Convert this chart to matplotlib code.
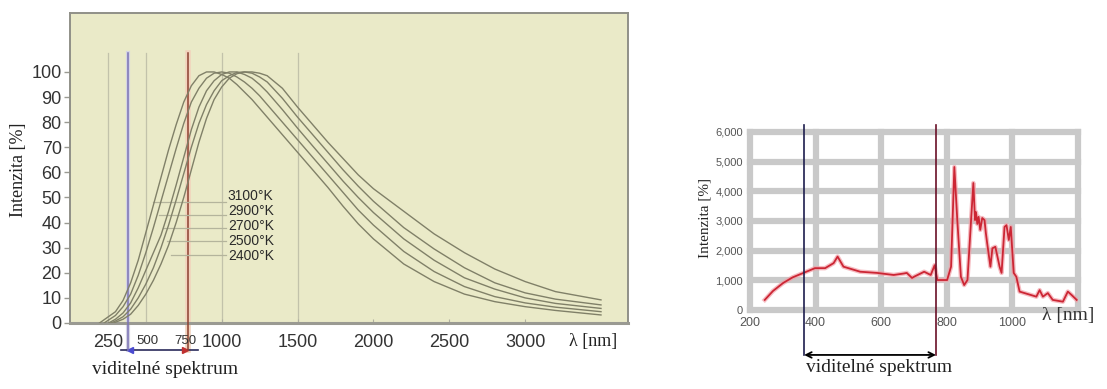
import matplotlib.pyplot as plt

plt.rcParams['font.family'] = ['Liberation Sans', 'DejaVu Sans']

# left chart: relative intensity of a filament at several temperatures
wl_grid = [300, 350, 400, 450, 500, 550, 600, 650, 700, 750, 800, 850, 900, 950,
           1000, 1050, 1100, 1150, 1200, 1250, 1300, 1400, 1500, 1600, 1700, 1800,
           1900, 2000, 2200, 2400, 2600, 2800, 3000, 3200, 3500]
temps = ["3100°K", "2900°K", "2700°K", "2500°K", "2400°K"]
start_wl = [195, 225, 255, 270, 290]

int_3100 = [4.5, 9, 16, 25, 36, 47, 58, 69, 79, 88, 94.5, 98.5, 100, 100,
            99, 97.5, 95, 92, 89, 85.5, 82, 75, 68, 61, 54, 46.5,
            39.5, 33.5, 23.5, 16.5, 11.5, 8.5, 6.5, 5, 3.2]
int_2900 = [3, 6.5, 11.5, 19, 28, 38, 48.5, 59, 69.5, 79.5, 88, 93.5, 97.5, 99.5,
            100, 99.5, 98, 96, 93.5, 90.5, 87, 80, 73, 66, 59, 52,
            45, 39, 28.5, 20.5, 14.5, 10.5, 8, 6.3, 4.5]
int_2700 = [1.5, 4, 8, 14, 21, 28, 35, 44.5, 55, 66, 77, 86, 92.5, 96.5,
            99, 100, 100, 99, 97.5, 95, 92, 85, 77.6, 70.5, 63.5, 56.5,
            50, 44, 33.5, 25, 18, 13.5, 10, 7.8, 5.8]
int_2500 = [0.8, 2.5, 5.5, 10, 15.5, 22, 30, 39, 49, 59.5, 70, 79.5, 87, 92.5,
            96.5, 98.5, 99.8, 100, 99.5, 98, 96, 89.5, 82, 75, 68, 61,
            54.5, 48.5, 38, 29.5, 22, 16, 12, 9.5, 7.2]
int_2400 = [0.3, 1.5, 3.5, 7, 11.5, 17, 23.5, 31, 40, 50, 61, 72, 81.5, 89,
            94, 97.5, 99.3, 100, 100, 99.5, 98.5, 93.5, 86, 79, 72, 65.5,
            59, 53.5, 44.5, 35.5, 28, 21.5, 16.5, 12.5, 9.2]
curves = [int_3100, int_2900, int_2700, int_2500, int_2400]

leader_start = [550, 585, 615, 640, 665]
leader_level = [48, 43, 38, 32.5, 27]
label_level = [50.5, 44.5, 38.5, 32.5, 26.5]

grid_left = [250, 500, 1000, 1500]
vis_left = [380, 776]
xticks_big = [250, 1000, 1500, 2000, 2500, 3000]
xticks_small = [500, 750]

# right chart: measured lamp spectrum
spec_wl = [245, 270, 301, 330, 363, 398, 429, 455, 467, 485, 536, 587, 638, 669,
           678, 694, 700, 731, 751, 763, 771, 801, 813, 823, 832, 843, 853, 863,
           874, 881, 886, 889, 893, 897, 902, 908, 915, 919, 923, 933, 939, 948,
           961, 967, 976, 982, 989, 995, 1004, 1012, 1022, 1037, 1058, 1073, 1083,
           1093, 1108, 1123, 1154, 1169, 1181, 1196]
spec_val = [340, 640, 910, 1100, 1250, 1410, 1410, 1580, 1800, 1460, 1290, 1250, 1180, 1230,
            1250, 1080, 1120, 1290, 1180, 1510, 1010, 1010, 1460, 4820, 3030, 1120, 840, 1010,
            3030, 4280, 3030, 3300, 2900, 3140, 2700, 3100, 3030, 2600, 2260, 1460, 2080, 2130,
            1460, 1250, 2800, 2860, 2360, 2800, 1250, 1120, 620, 570, 500, 450, 670,
            450, 570, 340, 280, 620, 500, 340]
vis_right = [365, 767]

fig = plt.figure(figsize=(11.07, 3.89), dpi=100)

# ---- left chart
ax1 = fig.add_axes([0.0632, 0.1697, 0.5041, 0.797])
ax1.set_facecolor('#eaeac8')
ax1.set_xlim(0, 3678)
ax1.set_ylim(0, 123.5)

for g in grid_left:
    ax1.plot([g, g], [0, 107.6], color='#c2c2aa', lw=0.9, zorder=1)

# visible range markers
ax1.plot([vis_left[0]] * 2, [-10.8, 107.6], color='#d4d4e4', lw=3, zorder=2, clip_on=False)
ax1.plot([vis_left[0]] * 2, [-10.8, 107.6], color='#7a72b4', lw=1.1, zorder=3, clip_on=False)
ax1.plot([vis_left[1]] * 2, [-10.8, 107.6], color='#f2d2bc', lw=4, zorder=2, clip_on=False)
ax1.plot([vis_left[1]] * 2, [-10.8, 107.6], color='#8c4030', lw=1.1, zorder=3, clip_on=False)

for vals, s in zip(curves, start_wl):
    ax1.plot([s] + wl_grid, [0] + vals, color='#808068', lw=1.0, zorder=4)

for x0, lev, lab, name in zip(leader_start, leader_level, label_level, temps):
    ax1.plot([x0, 1026], [lev, lev], color='#b4b49c', lw=0.9, zorder=3)
    ax1.text(1040, lab, name, fontsize=10,
             family=['Liberation Sans Narrow', 'Liberation Sans'],
             color='#2a2a2a', ha='left', va='center', zorder=5)

for sp in ax1.spines.values():
    sp.set_color('#909088')
    sp.set_linewidth(1.4)
ax1.spines['bottom'].set_linewidth(2.2)
ax1.spines['bottom'].set_color('#9a9a92')

ax1.set_yticks(range(0, 101, 10))
ax1.set_xticks(xticks_big)
ax1.set_xticklabels([str(t) for t in xticks_big])
ax1.tick_params(axis='y', labelsize=13, colors='#9a9a92', labelcolor='#333333',
                length=4, width=1, pad=2)
ax1.tick_params(axis='x', labelsize=13, colors='#b0b0a0', labelcolor='#333333',
                length=3, direction='in', pad=8)
xt = ax1.get_xaxis_transform()
for t in xticks_small:
    ax1.text(t + 10, -0.057, str(t), transform=xt, fontsize=9.5, color='#333333',
             ha='center', va='center')

# arrow under the visible range
ax1.plot([335, 842], [-10.8, -10.8], color='#2a2a5a', lw=1.2, clip_on=False)
ax1.plot([vis_left[0] + 18], [-10.8], marker='<', color='#4a4ad0', ms=5, clip_on=False)
ax1.plot([vis_left[1] - 18], [-10.8], marker='>', color='#c03030', ms=5, clip_on=False)

fig.text(0.0163, 0.563, 'Intenzita [%]', rotation=90, fontsize=13,
         family='Liberation Serif', ha='center', va='center', color='#222222')
fig.text(0.5357, 0.121, 'λ [nm]', fontsize=13, family='Liberation Serif',
         ha='center', va='center', color='#222222')
fig.text(0.149, 0.049, 'viditelné spektrum', fontsize=14, family='Liberation Serif',
         ha='center', va='center', color='#222222')

# ---- right chart
ax2 = fig.add_axes([0.6775, 0.2031, 0.2963, 0.4576])
ax2.set_xlim(200, 1200)
ax2.set_ylim(0, 6000)
for sp in ax2.spines.values():
    sp.set_visible(False)
for v in range(0, 6001, 1000):
    ax2.axhline(v, color='#c9c9c9', lw=4.5, zorder=0, clip_on=False)
for v in range(200, 1201, 200):
    ax2.axvline(v, color='#c9c9c9', lw=4.5, zorder=0, clip_on=False)

ax2.plot(spec_wl, spec_val, color='#f2a0a8', lw=3.2, zorder=2, alpha=0.7)
ax2.plot(spec_wl, spec_val, color='#cc2634', lw=1.3, zorder=3)

ax2.plot([vis_right[0]] * 2, [-1515, 6240], color='#1e1e4e', lw=1.2, zorder=4, clip_on=False)
ax2.plot([vis_right[1]] * 2, [-1515, 6240], color='#6a1028', lw=1.2, zorder=4, clip_on=False)
ax2.annotate('', xy=(vis_right[0], -1515), xytext=(vis_right[1], -1515),
             arrowprops=dict(arrowstyle='<->', color='black', lw=1.3, shrinkA=0, shrinkB=0),
             annotation_clip=False)

ax2.set_xticks([200, 400, 600, 800, 1000])
ax2.set_yticks(range(0, 6001, 1000))
ax2.set_yticklabels([f'{v:,}' for v in range(0, 6001, 1000)])
ax2.tick_params(axis='y', length=0, labelsize=8, labelcolor='#555555', pad=5)
ax2.tick_params(axis='x', length=0, labelsize=9, labelcolor='#555555', pad=5)

fig.text(0.637, 0.44, 'Intenzita [%]', rotation=90, fontsize=11,
         family='Liberation Serif', ha='center', va='center', color='#222222')
fig.text(0.965, 0.19, 'λ [nm]', fontsize=14, family='Liberation Serif',
         ha='center', va='center', color='#333333')
fig.text(0.794, 0.054, 'viditelné spektrum', fontsize=14, family='Liberation Serif',
         ha='center', va='center', color='#222222')

fig.savefig('out.png', dpi=100)
